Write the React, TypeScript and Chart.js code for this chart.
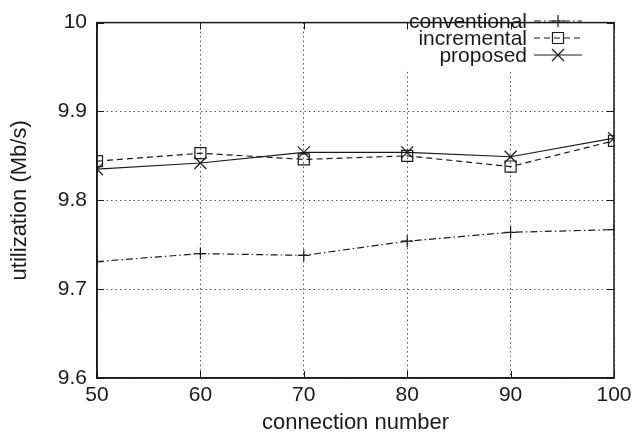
import React, { useEffect, useRef } from "react";
import { Chart, registerables } from "chart.js";

Chart.register(...registerables);

const connectionNumbers = [50, 60, 70, 80, 90, 100];
const conventional = [9.731, 9.740, 9.738, 9.754, 9.764, 9.767];
const incremental = [9.844, 9.853, 9.846, 9.850, 9.838, 9.867];
const proposed = [9.835, 9.842, 9.854, 9.854, 9.849, 9.870];
const seriesNames = ["conventional", "incremental", "proposed"];
const yTicks = [9.6, 9.7, 9.8, 9.9, 10];

const FONT = "'Liberation Sans', Arial, Helvetica, sans-serif";
const INK = "#1a1a1a";

const dashes = [[7, 3, 1.5, 3], [6, 4], []];
const markers = ["cross", "rect", "crossRot"];

function drawMarker(ctx: CanvasRenderingContext2D, style: string, x: number, y: number) {
  ctx.save();
  ctx.setLineDash([]);
  ctx.lineWidth = 1.2;
  ctx.strokeStyle = INK;
  ctx.beginPath();
  if (style === "cross") {
    const r = 6;
    ctx.moveTo(x - r, y); ctx.lineTo(x + r, y);
    ctx.moveTo(x, y - r); ctx.lineTo(x, y + r);
  } else if (style === "rect") {
    const h = 5.5;
    ctx.rect(x - h, y - h, 2 * h, 2 * h);
  } else {
    const h = 6;
    ctx.moveTo(x - h, y - h); ctx.lineTo(x + h, y + h);
    ctx.moveTo(x - h, y + h); ctx.lineTo(x + h, y - h);
  }
  ctx.stroke();
  ctx.restore();
}

const framePlugin = {
  id: "frameAndLegend",
  beforeDatasetsDraw(chart: any) {
    const { ctx, chartArea: a } = chart;
    ctx.save();
    ctx.fillStyle = "#fff";
    ctx.fillRect(402, a.top + 1, 190, 68 - a.top);
    ctx.restore();
  },
  afterDraw(chart: any) {
    const { ctx, chartArea: a, scales } = chart;
    ctx.save();
    ctx.strokeStyle = INK;
    ctx.lineWidth = 1;
    ctx.setLineDash([]);
    const tl = 7;
    ctx.beginPath();
    for (const v of connectionNumbers) {
      const px = Math.round(scales.x.getPixelForValue(v)) + 0.5;
      ctx.moveTo(px, a.bottom); ctx.lineTo(px, a.bottom - tl);
      ctx.moveTo(px, a.top); ctx.lineTo(px, a.top + tl);
    }
    for (const v of yTicks) {
      const py = Math.round(scales.y.getPixelForValue(v)) + 0.5;
      ctx.moveTo(a.left, py); ctx.lineTo(a.left + tl, py);
      ctx.moveTo(a.right, py); ctx.lineTo(a.right - tl, py);
    }
    ctx.stroke();
    ctx.lineWidth = 1.5;
    ctx.strokeRect(a.left, a.top, a.right - a.left, a.bottom - a.top);
    ctx.font = `21px ${FONT}`;
    ctx.fillStyle = INK;
    ctx.textAlign = "right";
    ctx.textBaseline = "middle";
    const rowY = [21, 38, 55];
    seriesNames.forEach((name, i) => {
      const y = rowY[i];
      ctx.fillText(name, 527, y + 1);
      ctx.save();
      ctx.lineWidth = 1.2;
      ctx.strokeStyle = INK;
      ctx.setLineDash(dashes[i]);
      ctx.beginPath();
      ctx.moveTo(534, y);
      ctx.lineTo(582, y);
      ctx.stroke();
      ctx.restore();
      drawMarker(ctx, markers[i], 558, y);
    });
    ctx.restore();
  },
};

export default function App() {
  const ref = useRef<HTMLCanvasElement | null>(null);

  useEffect(() => {
    document.body.style.margin = "0";
    const canvas = ref.current;
    if (!canvas) return;
    const mk = (i: number, data: number[]) => ({
      label: seriesNames[i],
      data: connectionNumbers.map((x, k) => ({ x, y: data[k] })),
      borderColor: INK,
      borderWidth: 1.2,
      borderDash: dashes[i],
      pointStyle: markers[i],
      pointRadius: i === 1 ? 7.8 : i === 0 ? 6 : 8.5,
      pointBorderWidth: 1.2,
      pointBorderColor: INK,
      pointBackgroundColor: "rgba(0,0,0,0)",
      fill: false,
      tension: 0,
    });
    const chart = new Chart(canvas, {
      type: "line",
      data: {
        datasets: [mk(0, conventional), mk(1, incremental), mk(2, proposed)],
      },
      options: {
        animation: false,
        responsive: false,
        devicePixelRatio: 1,
        layout: { padding: { top: 15, right: 26, left: 0, bottom: 0 } },
        plugins: { legend: { display: false }, tooltip: { enabled: false } },
        scales: {
          x: {
            type: "linear",
            min: 50,
            max: 100,
            afterBuildTicks: (s: any) => {
              s.ticks = connectionNumbers.map((v) => ({ value: v }));
            },
            afterFit: (s: any) => {
              s.height = 59;
            },
            ticks: {
              font: { family: FONT, size: 21 },
              color: INK,
              padding: 5,
              maxRotation: 0,
              callback: (v: any) => String(v),
            },
            grid: { color: "#555", lineWidth: 1, drawTicks: false },
            border: { display: true, color: INK, width: 1.5, dash: [1.5, 3] },
            title: {
              display: true,
              text: "connection number",
              font: { family: FONT, size: 22 },
              color: INK,
              padding: { top: 0, bottom: 1 },
            },
          },
          y: {
            type: "linear",
            min: 9.6,
            max: 10,
            afterBuildTicks: (s: any) => {
              s.ticks = yTicks.map((v) => ({ value: v }));
            },
            afterFit: (s: any) => {
              s.width = 97;
            },
            ticks: {
              font: { family: FONT, size: 21 },
              color: INK,
              padding: 10,
              callback: (v: any) => String(Math.round(Number(v) * 10) / 10),
            },
            grid: { color: "#555", lineWidth: 1, drawTicks: false },
            border: { display: true, color: INK, width: 1.5, dash: [1.5, 3] },
            title: {
              display: true,
              text: "utilization (Mb/s)",
              font: { family: FONT, size: 22 },
              color: INK,
              padding: { top: 7, bottom: 0 },
            },
          },
        },
      },
      plugins: [framePlugin],
    } as any);
    return () => chart.destroy();
  }, []);

  return (
    <div style={{ position: "fixed", left: 0, top: 0, width: 640, height: 437, background: "#fff" }}>
      <canvas ref={ref} width={640} height={437} style={{ width: 640, height: 437 }} />
    </div>
  );
}
